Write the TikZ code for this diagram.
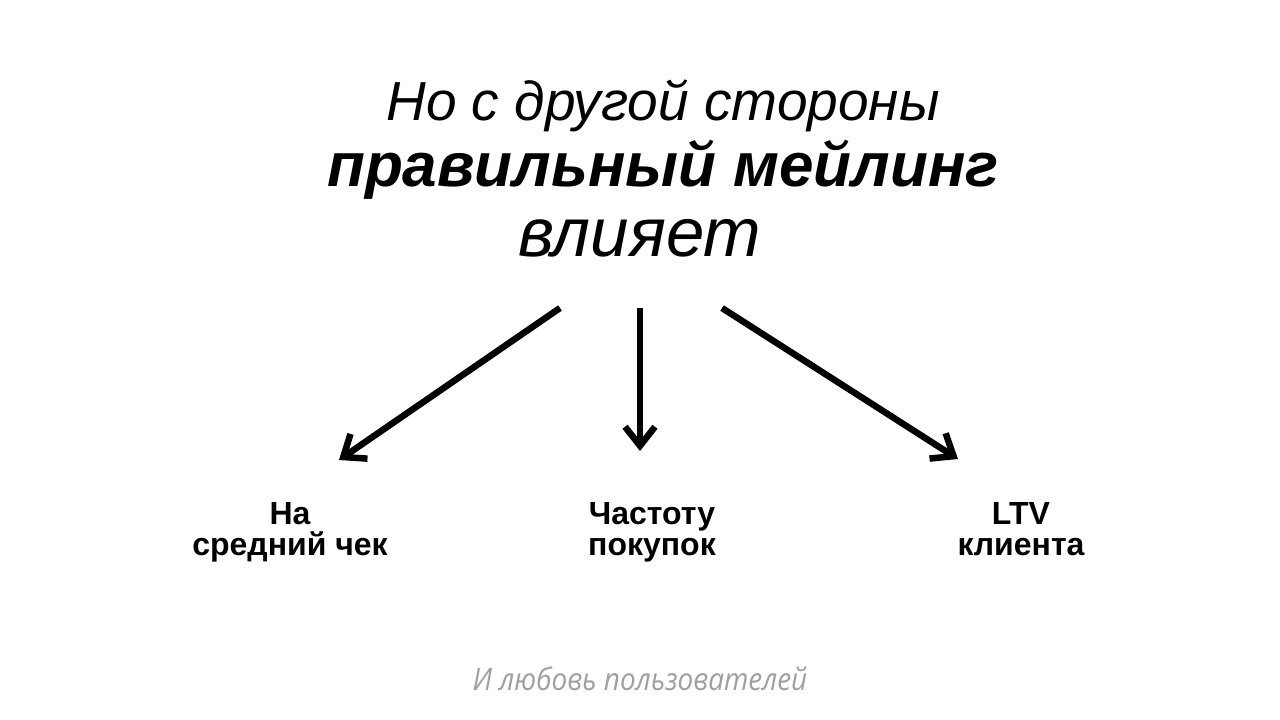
\documentclass[tikz,border=0pt]{standalone}
\usepackage{fontspec}
\setmainfont{Liberation Sans}
\newfontfamily\notefont[FakeStretch=0.9]{Open Sans}
\usetikzlibrary{arrows.meta}
\definecolor{notegray}{RGB}{160,160,160}
\tikzset{
  px/.style={x=1pt,y=-1pt},
  arr/.style={line width=6.5pt,-{Straight Barb[length=19pt,width=30pt,line width=6.5pt]}},
  lbl/.style={font=\fontsize{32}{31}\selectfont\bfseries,align=center,inner sep=0pt,anchor=base},
}
\begin{document}
\begin{tikzpicture}[px]
\useasboundingbox (0,0) rectangle (1280,720);
\fill[white] (0,0) rectangle (1280,720);
\node[font=\fontsize{55}{60}\selectfont\itshape,inner sep=0pt,anchor=base] (t1) at (663,120) {Но с другой стороны};
\node[font=\fontsize{62}{70}\selectfont\bfseries\itshape,inner sep=0pt,anchor=base] (t2) at (663,186) {правильный мейлинг};
\node[font=\fontsize{69}{70}\selectfont\itshape,inner sep=0pt,anchor=base west] (t3) at (518,256) {влияет};
\coordinate (s1) at (560,308);
\coordinate (s2) at (640,308);
\coordinate (s3) at (722,308);
\coordinate (e1) at (339,460);
\coordinate (e2) at (640,451);
\coordinate (e3) at (958,459);
\draw[arr] (s1) -- (e1);
\draw[arr] (s2) -- (e2);
\draw[arr] (s3) -- (e3);
\node[lbl] (l1) at (290,555) {На\\средний чек};
\node[lbl] (l2) at (652,555) {Частоту\\покупок};
\node[lbl] (l3) at (1021,555) {LTV\\клиента};
\node[font=\fontsize{31}{32}\selectfont\notefont\itshape,text=notegray,inner sep=0pt,anchor=base] (n) at (640,690) {И любовь пользователей};
\end{tikzpicture}
\end{document}
